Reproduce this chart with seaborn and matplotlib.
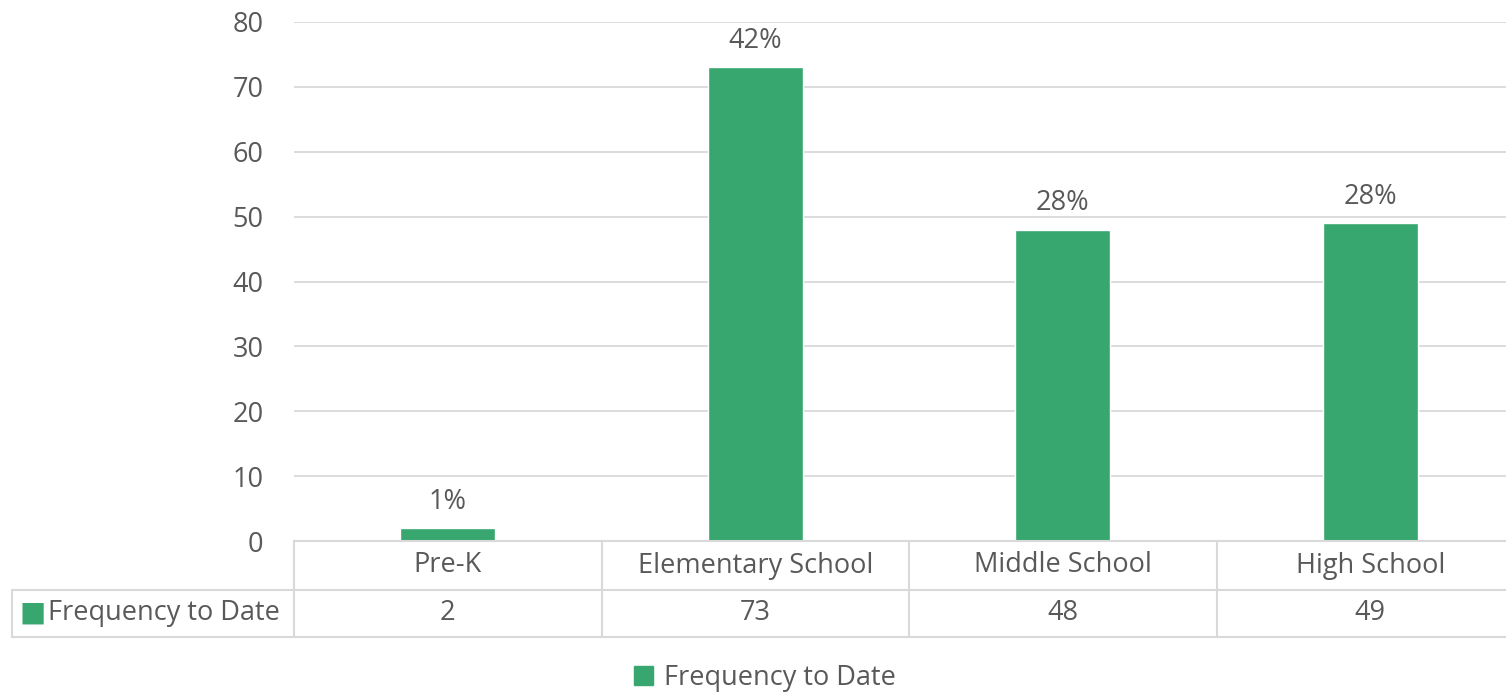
import matplotlib
matplotlib.use("Agg")
import matplotlib.pyplot as plt
import matplotlib.transforms as mtransforms
from matplotlib.patches import Patch
import pandas as pd
import seaborn as sns

categories = ["Pre-K", "Elementary School", "Middle School", "High School"]
frequency = [2, 73, 48, 49]
percent_labels = ["1%", "42%", "28%", "28%"]
series_name = "Frequency to Date"

green = "#37A66F"
text_grey = "#595959"
line_grey = "#D9D9D9"
fs = 19.5

sns.set_theme(style="white")
plt.rcParams["font.family"] = ["Open Sans", "DejaVu Sans"]

df = pd.DataFrame({"category": categories, "freq": frequency})

fig = plt.figure(figsize=(15.06, 6.93), dpi=100)
ax = fig.add_axes([294 / 1506, 1 - 541 / 693, 1 - 294 / 1506, (541 - 22) / 693])

sns.barplot(data=df, x="category", y="freq", color=green, width=0.31,
            saturation=1, ax=ax)

ax.set_ylim(0, 80)
ax.set_xlim(-0.5, -0.5 + (1506 - 294) / 307.5)
ax.set_yticks(range(0, 81, 10))
ax.yaxis.grid(True, color=line_grey, linewidth=1.3)
ax.set_axisbelow(True)
ax.tick_params(axis="y", labelsize=fs, labelcolor=text_grey, length=0, pad=22)
ax.set_xticks([])
ax.set_xlabel("")
ax.set_ylabel("")
for s in ax.spines.values():
    s.set_visible(False)

# percentage labels above bars
for i, (v, lab) in enumerate(zip(frequency, percent_labels)):
    ax.annotate(lab, (i, v), xytext=(0, 9), textcoords="offset points",
                ha="center", va="bottom", fontsize=fs, color=text_grey)

# data table under the axis
trans = mtransforms.blended_transform_factory(ax.transData, ax.transAxes)
ax_h = 541 - 22
row1 = -(590 - 541) / ax_h
row2 = -(637 - 541) / ax_h
left_edge = ax.transData.inverted().transform(
    fig.transFigure.transform((12 / 1506, 0)))[0]
xr = ax.get_xlim()[1]
kw = dict(color=line_grey, linewidth=1.5, clip_on=False, transform=trans)
ax.plot([-0.5, xr], [0, 0], **kw)
ax.plot([left_edge, xr], [row1, row1], **kw)
ax.plot([left_edge, xr], [row2, row2], **kw)
ax.plot([left_edge, left_edge], [row1, row2], **kw)
for i in range(len(categories)):
    ax.plot([i - 0.5, i - 0.5], [0, row2], **kw)
    ax.text(i, row1 / 2, categories[i], transform=trans, ha="center",
            va="center", fontsize=fs, color=text_grey)
    ax.text(i, (row1 + row2) / 2, str(frequency[i]), transform=trans,
            ha="center", va="center", fontsize=fs, color=text_grey)

# row header with key
ymid = 1 - 613 / 693
fig.text(20 / 1506, ymid, "\u25A0", ha="left", va="center", fontsize=20,
         color=green, family="DejaVu Sans")
fig.text(48 / 1506, ymid, series_name, ha="left", va="center", fontsize=fs,
         color=text_grey)

fig.legend(handles=[Patch(color=green, label=series_name)], loc="center",
           bbox_to_anchor=(765 / 1506, 1 - 678 / 693), frameon=False,
           fontsize=fs, handlelength=0.7, handleheight=0.7, handletextpad=0.4,
           labelcolor=text_grey, borderpad=0)

fig.savefig("out.png", dpi=100)
